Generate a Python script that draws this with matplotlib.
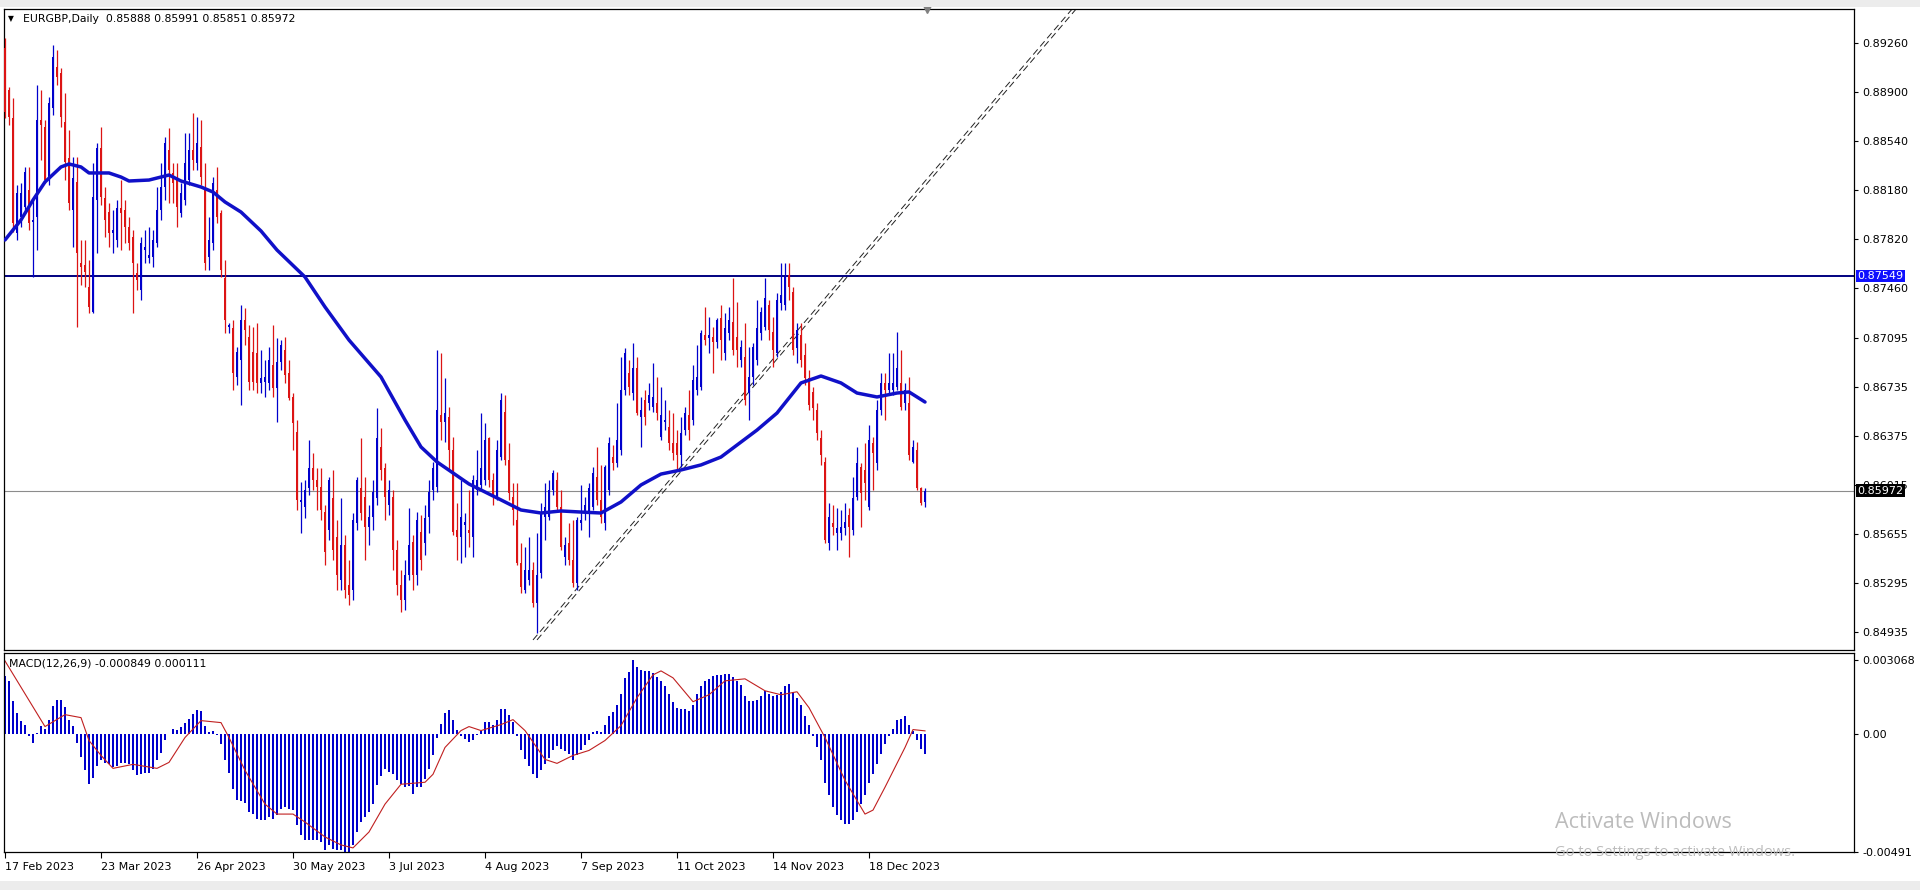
import numpy as np
import matplotlib
matplotlib.use("Agg")
import matplotlib.pyplot as plt
from matplotlib.patches import Rectangle

################################################################
# data (prices in points, 1 point = 0.00001)

opens = [89223, 88915, 88709, 87865, 87983, 88056, 88181, 87946, 87983, 88695,
         88644, 88254, 88783, 89084, 89040, 88680, 88416, 88034, 88239, 87645,
         87630, 87469, 87285, 88107, 88489, 88122, 88019, 87865, 87814, 88048,
         88034, 87910, 87836, 87571, 87447, 87740, 87681, 87689, 87792, 88034,
         88203, 88475, 88306, 88254, 88012, 88107, 88254, 88475, 88379, 88497,
         88203, 87689, 87792, 88181, 88012, 87534, 87175, 87167, 86808, 86933,
         87226, 87102, 86991, 86984, 86764, 86771, 86764, 86896, 86727, 86918,
         87006, 86837, 86661, 86404, 85890, 85854, 85992, 86139, 86051, 86000,
         85816, 85684, 85919, 85633, 85317, 85574, 85280, 85244, 85736, 85992,
         85927, 85707, 85780, 85919, 86294, 86139, 85868, 85927, 85537, 85280,
         85170, 85354, 85596, 85354, 85669, 85589, 85780, 85978, 86000, 86528,
         86477, 86514, 86272, 85684, 85633, 85721, 85684, 85633, 85978, 86014,
         86051, 86360, 86051, 85927, 86221, 86550, 86198, 85927, 85758, 85442,
         85244, 85317, 85391, 85148, 85369, 85780, 85780, 85978, 86051, 85854,
         85486, 85589, 85464, 85295, 85736, 85809, 85809, 85854, 86074, 85905,
         85736, 85978, 86221, 86176, 86272, 86712, 86837, 86690, 86874, 86514,
         86639, 86617, 86588, 86617, 86368, 86477, 86441, 86323, 86323, 86235,
         86419, 86528, 86492, 86712, 86735, 87116, 87094, 87102, 87064, 87241,
         86984, 87131, 87211, 87102, 86933, 86955, 86690, 86808, 86933, 87131,
         87175, 87336, 87138, 86984, 87351, 87336, 87556, 87432, 87020, 87116,
         86969, 86800, 86697, 86565, 86360, 86183, 85589, 85736, 85662, 85662,
         85699, 85794, 85684, 85927, 86147, 86125, 85854, 86323, 86176, 86565,
         86764, 86712, 86712, 86735, 86764, 86617, 86617, 86183, 86272, 85992,
         85888]

highs = [89297, 88938, 88856, 88217, 88232, 88350, 88350, 88107, 88952, 88915,
         88695, 88864, 89245, 89209, 89076, 88893, 88621, 88424, 88424, 87814,
         87814, 87667, 88379, 88526, 88644, 88203, 88085, 88034, 88107, 88254,
         88107, 87983, 87887, 87645, 87836, 87887, 87910, 87887, 88203, 88379,
         88570, 88636, 88379, 88379, 88232, 88599, 88599, 88746, 88717, 88695,
         88379, 87983, 88277, 88350, 88034, 87667, 87204, 87226, 87028, 87336,
         87314, 87189, 87175, 87204, 87006, 86933, 87028, 87189, 87094, 87079,
         87102, 86933, 86690, 86492, 86036, 86051, 86345, 86250, 86139, 86139,
         85868, 86074, 86125, 85758, 85919, 85647, 85464, 85809, 86074, 86360,
         86074, 85868, 86051, 86580, 86433, 86176, 86051, 85978, 85611, 85391,
         85464, 85846, 85647, 85816, 85794, 85868, 86051, 86183, 87006, 86984,
         86800, 86588, 86368, 85883, 86051, 85809, 85978, 86088, 86272, 86543,
         86470, 86368, 86103, 86345, 86690, 86675, 86323, 86029, 86029, 85589,
         85560, 85633, 85449, 85662, 85883, 86029, 86051, 86125, 86110, 85978,
         85633, 85736, 85758, 85780, 86014, 85927, 86029, 86147, 86294, 86161,
         86161, 86368, 86308, 86617, 86955, 87020, 86933, 87057, 86955, 86661,
         86712, 86764, 86911, 86808, 86735, 86639, 86565, 86543, 86419, 86514,
         86588, 86712, 86896, 87042, 87153, 87322, 87249, 87175, 87241, 87336,
         87278, 87322, 87534, 87358, 87079, 87204, 87028, 87057, 87373, 87322,
         87534, 87373, 87249, 87425, 87645, 87645, 87645, 87469, 87204, 87204,
         87057, 86859, 86735, 86617, 86419, 86220, 85883, 85868, 85846, 85831,
         85883, 85846, 86074, 86294, 86176, 86323, 86455, 86368, 86639, 86837,
         86837, 86984, 86984, 87138, 87006, 86764, 86808, 86345, 86330, 86000,
         85991]

lows = [88709, 88658, 87872, 87814, 87910, 88019, 87887, 87542, 87740, 88401,
        88232, 88217, 88731, 88952, 88644, 88254, 88034, 87763, 87175, 87483,
        87469, 87278, 87278, 87718, 88070, 87836, 87763, 87718, 87763, 87740,
        87792, 87740, 87278, 87447, 87373, 87645, 87645, 87616, 87763, 87961,
        88107, 88085, 88085, 87910, 87983, 88070, 88217, 88328, 88328, 88217,
        87593, 87593, 87740, 87939, 87542, 87131, 87131, 86712, 86749, 86602,
        87042, 86712, 86712, 86690, 86690, 86661, 86712, 86661, 86477, 86859,
        86764, 86639, 86272, 85831, 85662, 85772, 85941, 85978, 85831, 85758,
        85427, 85611, 85464, 85244, 85244, 85185, 85133, 85170, 85684, 85758,
        85464, 85574, 85684, 85868, 86051, 85758, 85794, 85391, 85207, 85082,
        85097, 85317, 85244, 85280, 85391, 85500, 85662, 85905, 85963, 86345,
        86330, 86125, 85647, 85464, 85442, 85486, 85560, 85486, 85941, 85978,
        86014, 86000, 85868, 85905, 86198, 86161, 85905, 85721, 85427, 85222,
        85222, 85280, 85119, 84928, 85332, 85611, 85758, 85941, 85831, 85537,
        85427, 85427, 85266, 85244, 85684, 85758, 85633, 85831, 85868, 85736,
        85684, 85941, 86125, 86147, 86235, 86675, 86675, 86639, 86528, 86294,
        86455, 86565, 86550, 86492, 86345, 86419, 86272, 86198, 86125, 86147,
        86382, 86345, 86455, 86675, 86712, 87042, 86984, 86837, 87020, 86933,
        86933, 87079, 86969, 86882, 86882, 86602, 86492, 86749, 86896, 87079,
        87153, 87079, 86882, 86955, 87300, 87300, 87373, 86969, 86911, 86882,
        86749, 86565, 86492, 86345, 86161, 85589, 85537, 85647, 85537, 85611,
        85647, 85486, 85647, 85905, 85707, 85905, 85831, 85978, 86125, 86528,
        86492, 86675, 86675, 86712, 86565, 86565, 86198, 86176, 85978, 85868,
        85851]

closes = [88753, 88717, 87939, 88159, 88159, 88313, 87939, 87961, 88695, 88658,
          88254, 88820, 89158, 89011, 88717, 88386, 88085, 88269, 87718, 87616,
          87578, 87322, 88130, 88489, 88130, 87961, 87865, 87887, 88048, 88012,
          87910, 87792, 87645, 87520, 87792, 87763, 87703, 87814, 88034, 88203,
          88526, 88328, 88232, 88056, 88159, 88379, 88475, 88401, 88526, 88277,
          87645, 87814, 88232, 87983, 87593, 87226, 87189, 86837, 86991, 87226,
          87153, 86771, 86771, 86764, 86800, 86808, 86933, 86727, 86918, 87042,
          86822, 86653, 86470, 85905, 85905, 85978, 86139, 86051, 86000, 85831,
          85522, 86051, 85537, 85354, 85574, 85244, 85207, 85758, 86051, 85809,
          85707, 85780, 85963, 86360, 86125, 85927, 85978, 85537, 85280, 85170,
          85354, 85574, 85354, 85758, 85464, 85772, 85963, 86139, 86565, 86477,
          86543, 86272, 85669, 85633, 85780, 85743, 85662, 86051, 86051, 86139,
          86345, 86051, 85927, 86272, 86639, 86198, 85956, 85831, 85442, 85266,
          85391, 85391, 85148, 85354, 85809, 85854, 85978, 86103, 85854, 85560,
          85574, 85464, 85295, 85758, 85758, 85868, 85992, 86103, 85905, 85780,
          86147, 86323, 86176, 86345, 86712, 86984, 86735, 86874, 86543, 86565,
          86514, 86675, 86661, 86543, 86528, 86492, 86323, 86250, 86235, 86397,
          86543, 86419, 86786, 86808, 87131, 87079, 87116, 87064, 87226, 87079,
          87167, 87226, 87006, 87006, 87028, 86639, 86808, 87028, 87167, 87285,
          87388, 87153, 87006, 87373, 87410, 87542, 87469, 87006, 87153, 86933,
          86800, 86602, 86580, 86397, 86235, 85611, 85780, 85707, 85699, 85707,
          85743, 85707, 85919, 86176, 85956, 86029, 86345, 86250, 86565, 86764,
          86712, 86764, 86764, 86874, 86588, 86712, 86235, 86294, 85992, 85883,
          85972]

# moving average
ma_bars = [0, 4, 7, 10, 14, 16, 19, 21, 26, 29, 31, 36, 41, 44, 49, 52, 55, 59,
           64, 68, 75, 80, 86, 94, 100, 104, 108, 112, 116, 119, 124, 129, 134,
           139, 144, 149, 154, 159, 164, 169, 174, 179, 188, 193, 199, 204, 209,
           213, 218, 223, 226, 230]
ma_vals = [87814, 87961, 88107, 88240, 88350, 88372, 88350, 88306, 88306, 88276,
           88247, 88254, 88291, 88247, 88203, 88166, 88093, 88019, 87880, 87740,
           87542, 87322, 87079, 86808, 86492, 86294, 86184, 86103, 86022, 85978,
           85905, 85831, 85809, 85824, 85816, 85809, 85890, 86015, 86095, 86125,
           86162, 86220, 86418, 86543, 86764, 86815, 86764, 86690, 86661, 86690,
           86698, 86624]

# MACD main (histogram) and signal, in millionths
macd = [2395, 2189, 1363, 867, 537, 372, -83, -413, 41, 330,
        207, 578, 1156, 1404, 1404, 1115, 578, 330, -413, -991,
        -1528, -2106, -1859, -1363, -1115, -1239, -1280, -1404, -1363, -1239,
        -1239, -1280, -1528, -1735, -1693, -1652, -1652, -1487, -1115, -826,
        -289, -20, 207, 165, 289, 454, 620, 826, 991, 950,
        330, 83, 124, -41, -454, -1115, -1652, -2313, -2767, -2808,
        -2891, -3263, -3345, -3552, -3593, -3593, -3469, -3552, -3387, -3139,
        -3056, -3139, -3180, -3800, -4213, -4419, -4419, -4419, -4419, -4502,
        -4832, -4626, -4791, -4832, -4832, -4910, -4905, -4626, -4089, -3676,
        -3469, -3263, -2932, -2148, -1776, -1487, -1611, -1693, -1941, -2106,
        -2230, -2189, -2519, -2230, -2230, -1900, -1487, -909, -165, 413,
        867, 991, 578, 165, -83, -207, -372, -248, -41, 124,
        496, 496, 372, 578, 1033, 1033, 785, 496, -83, -702,
        -1074, -1363, -1693, -1859, -1528, -1280, -1033, -702, -537, -661,
        -743, -867, -1115, -909, -702, -496, -289, 83, 124, 83,
        372, 743, 909, 1198, 1652, 2313, 2561, 3068, 2767, 2643,
        2602, 2602, 2519, 2354, 2189, 1982, 1652, 1322, 1074, 1033,
        1033, 950, 1198, 1652, 1982, 2189, 2272, 2395, 2437, 2437,
        2478, 2478, 2354, 2189, 2024, 1569, 1363, 1363, 1404, 1569,
        1776, 1652, 1569, 1611, 1735, 1982, 2065, 1735, 1487, 1198,
        743, 372, -83, -578, -1115, -2065, -2561, -3056, -3387, -3593,
        -3758, -3758, -3593, -3263, -2932, -2561, -2065, -1693, -1280, -867,
        -454, -83, 207, 578, 620, 743, 372, 124, -248, -661,
        -849]

sig_bars = [0, 10, 15, 19, 21, 24, 27, 32, 38, 41, 45, 49, 54, 56, 60, 65, 68,
            72, 75, 80, 84, 87, 91, 95, 99, 105, 107, 110, 114, 116, 119, 124,
            127, 130, 135, 138, 142, 146, 150, 154, 158, 162, 164, 167, 172, 176,
            180, 185, 190, 194, 198, 201, 205, 210, 215, 217, 220, 225, 227, 230]
sig_vals = [3015, 289, 785, 661, -289, -909, -1446, -1280, -1446, -1198, -165,
            537, 454, -165, -1528, -2932, -3345, -3345, -3676, -4295, -4626,
            -4750, -4089, -2932, -2106, -2024, -1693, -578, 124, 289, 124, 372,
            578, 124, -1074, -1239, -909, -702, -289, 330, 1487, 2437, 2602,
            2313, 1322, 1611, 2189, 2272, 1776, 1611, 1735, 1074, -165, -1941,
            -3345, -3180, -2230, -578, 165, 111]

hline_price = 0.87549
last_price = 0.85972
header = "EURGBP,Daily  0.85888 0.85991 0.85851 0.85972"
macd_header = "MACD(12,26,9) -0.000849 0.000111"

price_ticks = [0.89260, 0.88900, 0.88540, 0.88180, 0.87820, 0.87460, 0.87095,
               0.86735, 0.86375, 0.86015, 0.85655, 0.85295, 0.84935]
macd_ticks = [0.003068, 0.0, -0.00491]
macd_tick_labels = ["0.003068", "0.00", "-0.00491"]
date_bars = [0, 24, 48, 72, 96, 120, 144, 168, 192, 216]
date_labels = ["17 Feb 2023", "23 Mar 2023", "26 Apr 2023", "30 May 2023",
               "3 Jul 2023", "4 Aug 2023", "7 Sep 2023", "11 Oct 2023",
               "14 Nov 2023", "18 Dec 2023"]

# trend channel (two dashed parallel lines)
trend_bars = [[133, 270], [132, 269]]
trend_prices = [0.84877, 0.89586]

################################################################

BLUE = "#0000cc"
RED = "#dc1414"
W, H = 1920, 890

plt.rcParams["font.family"] = ["DejaVu Sans"]


def box(x0, y0, x1, y1):
    # pixel box (top-left origin) -> figure fraction
    return [x0 / W, 1 - y1 / H, (x1 - x0) / W, (y1 - y0) / H]


fig = plt.figure(figsize=(W / 100, H / 100), dpi=100)
fig.patch.set_facecolor("white")

# window chrome
fig.patches.append(Rectangle((0, 1 - 7 / H), 1, 7 / H, transform=fig.transFigure,
                             facecolor="#ececec", edgecolor="none"))
fig.patches.append(Rectangle((0, 0), 1, 9 / H, transform=fig.transFigure,
                             facecolor="#ececec", edgecolor="none"))

ax = fig.add_axes(box(4, 9, 1854, 650))
axm = fig.add_axes(box(4, 653, 1854, 852))

o = np.array(opens) / 1e5
h = np.array(highs) / 1e5
l = np.array(lows) / 1e5
c = np.array(closes) / 1e5
idx = np.arange(len(c))
cols = np.where(c >= o, BLUE, RED)

ax.vlines(idx, l, h, colors=cols, linewidth=0.9, zorder=3)
body = np.maximum(np.abs(c - o), 0.00003)
ax.bar(idx, body, bottom=np.minimum(o, c), width=0.74, color=cols,
       linewidth=0, zorder=3)

ax.plot(ma_bars, np.array(ma_vals) / 1e5, color="#1010c8", lw=2.5,
        solid_capstyle="round", solid_joinstyle="round", zorder=4)

ax.axhline(hline_price, color="#000080", lw=1.4, zorder=2)
ax.axhline(last_price, color="#8c8c8c", lw=0.8, zorder=2)

for bars in trend_bars:
    ax.plot(bars, trend_prices, color="#222222", lw=0.7, ls=(0, (7, 4)), zorder=2)

ax.set_xlim(-0.25, 462.25)
ax.set_ylim(0.84803, 0.89510)
ax.set_xticks([])
ax.yaxis.tick_right()
ax.set_yticks(price_ticks)
ax.set_yticklabels([f"{p:.5f}" for p in price_ticks])
ax.tick_params(axis="y", direction="out", length=3, width=0.8, labelsize=8, pad=3)

# chart-shift marker
ax.plot([230.5], [1.0], marker="v", color="#808080", markersize=6,
        transform=ax.get_xaxis_transform(), clip_on=False, zorder=5)

for val, bg in [(hline_price, "#1010ff"), (last_price, "black")]:
    ax.annotate(f"{val:.5f}", xy=(1, val), xycoords=("axes fraction", "data"),
                xytext=(2.5, 0), textcoords="offset points", ha="left", va="center",
                fontsize=8, color="white", annotation_clip=False, zorder=10,
                bbox=dict(boxstyle="square,pad=0.12", fc=bg, ec="none"))

ax.text(0.0023, 0.985, "\u25bc", transform=ax.transAxes, fontsize=5.5,
        va="center", ha="left")
ax.text(0.0104, 0.985, header, transform=ax.transAxes, fontsize=7.8,
        va="center", ha="left")

# MACD panel
axm.bar(idx, np.array(macd) / 1e6, width=0.72, color="#0000cc", linewidth=0)
axm.plot(sig_bars, np.array(sig_vals) / 1e6, color="#c02020", lw=0.8)
axm.set_xlim(-0.25, 462.25)
axm.set_ylim(-0.00492, 0.003345)
axm.yaxis.tick_right()
axm.set_yticks(macd_ticks)
axm.set_yticklabels(macd_tick_labels)
axm.set_xticks(date_bars)
axm.set_xticklabels(date_labels, ha="left")
axm.tick_params(axis="y", direction="out", length=3, width=0.8, labelsize=8, pad=3)
axm.tick_params(axis="x", direction="out", length=4, width=0.8, labelsize=8, pad=3)
axm.text(0.0027, 0.945, macd_header, transform=axm.transAxes, fontsize=7.8,
         va="center", ha="left")

for a in (ax, axm):
    for s in a.spines.values():
        s.set_color("black")
        s.set_linewidth(0.9)

# watermark
fig.text(1555 / W, 1 - 823 / H, "Activate Windows", fontsize=15.5,
         color="#bcbcbc", family=["Open Sans", "DejaVu Sans"], va="center")
fig.text(1555 / W, 1 - 852 / H, "Go to Settings to activate Windows.", fontsize=10.5,
         color="#bcbcbc", family=["Open Sans", "DejaVu Sans"], va="center")

fig.savefig("out.png", dpi=100)
